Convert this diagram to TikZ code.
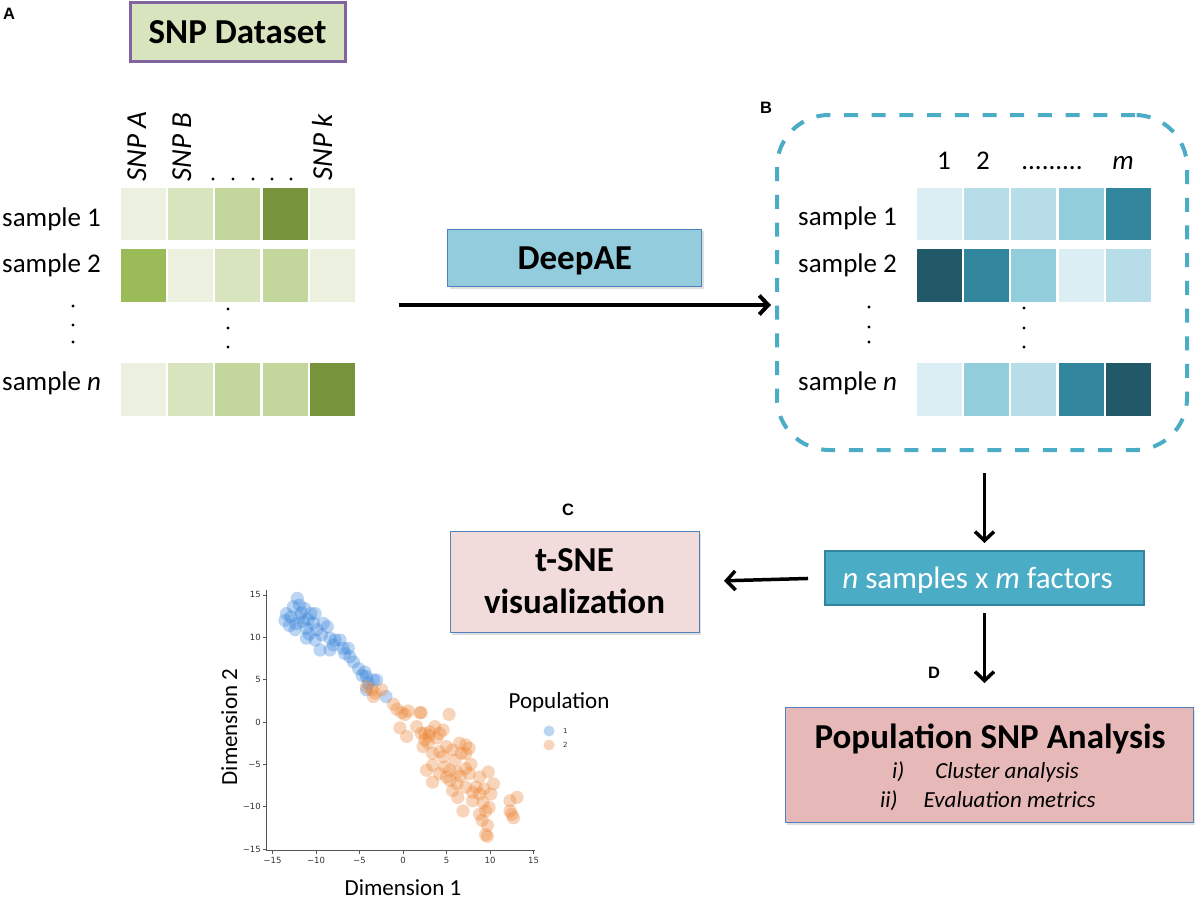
\documentclass[tikz,border=0pt]{standalone}
\usepackage{fontspec}
\setmainfont{Carlito}
\newfontfamily\arialfont{Liberation Sans}
\newfontfamily\dejafont{DejaVu Sans}
\usetikzlibrary{arrows.meta,shadows}
\definecolor{gvl}{HTML}{EBF1DE}
\definecolor{gl}{HTML}{D7E4BD}
\definecolor{gm}{HTML}{C3D69B}
\definecolor{gd}{HTML}{77933C}
\definecolor{gs}{HTML}{9BBB59}
\definecolor{bvl}{HTML}{DAEEF3}
\definecolor{bl}{HTML}{B7DEE8}
\definecolor{bm}{HTML}{92CDDC}
\definecolor{bd}{HTML}{31859C}
\definecolor{bdd}{HTML}{215968}
\definecolor{purp}{HTML}{8064A2}
\definecolor{snpfill}{HTML}{D7E4BD}
\definecolor{aqua}{HTML}{4BACC6}
\definecolor{aquaborder}{HTML}{31859C}
\definecolor{boxblue}{HTML}{4F81BD}
\definecolor{pinklight}{HTML}{F2DCDB}
\definecolor{pinkmid}{HTML}{E6B9B8}
\definecolor{deepfill}{HTML}{93CDDD}
\definecolor{popblue}{HTML}{2F7FDA}
\definecolor{poporange}{HTML}{EC7F2A}
\definecolor{axisgray}{HTML}{555555}
\definecolor{ticktext}{HTML}{333333}
\newcommand\fs[2]{\fontsize{#1}{#2}\selectfont}
\newcommand\cellrow[3]{%
  \foreach \cc [count=\ii from 0] in {#3} {\fill[\cc] ({#1+\ii*47.3},#2) rectangle ++(45,52.3);}}
\tikzset{
  lab/.style={font=\arialfont\bfseries\fs{16.5}{20}, inner sep=0pt},
  rowlab/.style={font=\fs{27}{32}, anchor=base west, inner sep=0pt},
  collab/.style={font=\itshape\fs{29}{34}, rotate=90, anchor=base west, inner sep=0pt},
  numlab/.style={font=\fs{27}{32}, anchor=base, inner sep=0pt},
  dotmark/.style={fill=black},
  shadowed/.style={drop shadow={opacity=0.25, shadow xshift=2pt, shadow yshift=-2.5pt}},
  boxbase/.style={draw, outer sep=0pt, inner sep=0pt, text depth=0pt, font=\bfseries\fs{35}{42}, align=center},
  arr/.style={line width=3.5pt, -{Straight Barb[length=9pt,width=19pt]}},
  ticklab/.style={font=\dejafont\fs{8.5}{10}, text=ticktext, inner sep=0pt},
  plotlab/.style={font=\fs{23}{28}, inner sep=0pt},
  bluept/.style={fill=popblue, fill opacity=0.32},
  orangept/.style={fill=poporange, fill opacity=0.32},
}
\begin{document}
\begin{tikzpicture}[x=1pt,y=-1pt]
\useasboundingbox (0,0) rectangle (1200,899);
\fill[white] (0,0) rectangle (1200,899);

% panel labels
\node[lab, anchor=north west] (labA) at (3,7.5) {A};
\node[lab, anchor=north west] (labB) at (760,102) {B};
\node[lab, anchor=north west] (labC) at (562,504) {C};
\node[lab, anchor=north west] (labD) at (928,667) {D};

% SNP dataset box
\node[boxbase, draw=purp, line width=3pt, fill=snpfill, minimum width=215, minimum height=59] (snp) at (237.5,32.5) {SNP Dataset};

% matrix A
\cellrow{120.7}{187.7}{gvl,gl,gm,gd,gvl}
\cellrow{120.7}{249.3}{gs,gvl,gl,gm,gvl}
\cellrow{120.7}{363.3}{gvl,gl,gm,gm,gd}
\node[collab] (snpa) at (146,182) {SNP A};
\node[collab] (snpb) at (191,182) {SNP B};
\node[collab] (snpk) at (332,181) {SNP k};
\foreach \xx in {213,233,253,272,291} \fill[dotmark] (\xx,179) circle[radius=1.6pt];
\node[rowlab] (a1) at (2,226.5) {sample 1};
\node[rowlab] (a2) at (2,272.7) {sample 2};
\node[rowlab] (an) at (2,390.7) {sample \textit{n}};
\foreach \yy in {306,325,342} \fill[dotmark] (73,\yy) circle[radius=1.6pt];
\foreach \yy in {309,328,347} \fill[dotmark] (228,\yy) circle[radius=1.6pt];

% DeepAE
\node[boxbase, draw=boxblue, line width=0.8pt, fill=deepfill, minimum width=254, minimum height=57.7, shadowed] (deep) at (574.7,257.8) {DeepAE};

% dashed box B
\node[draw=aqua, line width=4pt, dash pattern=on 14pt off 13.7pt, rounded corners=52pt, minimum width=410, minimum height=335, outer sep=0pt] (B) at (982,282.5) {};
\coordinate (astart) at (399,305);
\draw[arr, line width=4pt] (astart) -- (astart -| B.west) [shorten >=6pt];

% matrix B
\cellrow{916.7}{187.7}{bvl,bl,bl,bm,bd}
\cellrow{916.7}{249.3}{bdd,bd,bm,bvl,bl}
\cellrow{916.7}{363.3}{bvl,bm,bl,bd,bdd}
\node[numlab] (c1) at (944,169) {1};
\node[numlab] (c2) at (983,169) {2};
\node[numlab] (cdots) at (1052,169) {.........};
\node[numlab, font=\itshape\fs{27}{32}] (cm) at (1123,169) {m};
\node[rowlab] (b1) at (798,225.5) {sample 1};
\node[rowlab] (b2) at (798,272) {sample 2};
\node[rowlab] (bn) at (798,390) {sample \textit{n}};
\foreach \yy in {307,327,342} \fill[dotmark] (869,\yy) circle[radius=1.6pt];
\foreach \yy in {308,328,347} \fill[dotmark] (1024,\yy) circle[radius=1.6pt];

% n samples x m factors
\node[boxbase, draw=aquaborder, line width=2.5pt, fill=aqua, minimum width=319, minimum height=54, font=\fs{31}{36}, text=white] (nsamp) at (984.5,578) {\textit{n} samples x \textit{m} factors\hspace*{14pt}};

% t-SNE box
\node[boxbase, draw=boxblue, line width=0.8pt, fill=pinklight, minimum width=249, minimum height=101, text depth=, shadowed] (tsne) at (574.5,581.5) {t-SNE\\visualization};

% Population SNP analysis box
\node[boxbase, draw=boxblue, line width=0.8pt, fill=pinkmid, minimum width=408, minimum height=115, shadowed] (pop) at (989,764.5) {};
\node[font=\bfseries\fs{35}{42}, anchor=base, inner sep=0pt] (poptitle) at (990,748) {Population SNP Analysis};
\node[font=\itshape\fs{23}{28}, anchor=base west, inner sep=0pt] (pop1) at (892,778) {i)\hspace{31pt}Cluster analysis};
\node[font=\itshape\fs{23}{28}, anchor=base west, inner sep=0pt] (pop2) at (880,807) {ii)\hspace{26pt}Evaluation metrics};

% arrows
\draw[arr] (nsamp.north |- B.south) -- (nsamp.north) [shorten <=23pt, shorten >=8pt];
\draw[arr] (nsamp.west) -- (tsne.east) [shorten <=17pt, shorten >=25pt];
\draw[arr] (nsamp.south) -- (nsamp.south |- pop.north) [shorten <=8pt, shorten >=24pt];

% scatter plot
\begin{scope}[shift={(403,722)}, x=8.7pt, y=8.47pt]
  \foreach \px/\py in {-12.15/14.6,-13.56/12.0,-13.4/12.8,-12.6/13.6,-11.3/13.4,-10.6/12.8,-10.1/12.8,-13.07/11.4,-12.4/10.9,-11.1/11.05,-11.45/11.85,-10.3/11.65,-9.16/11.65,-8.7/11.25,-9.35/10.3,-11.1/9.9,-10.1/9.68,-8.4/9.9,-7.8/9.68,-7.24/9.68,-9.54/8.5,-8.4/8.5,-8.0/9.1,-6.88/8.7,-6.3/8.7,-6.1/7.7,-6.7/8.1,-5.7/7.1,-5.1/6.3,-4.4/5.9,-4.7/5.5,-4.2/5.35,-3.4/4.96,-3.03/4.96,-3.98/4.56,-4.2/3.8,-1.96/3.0,-12.0/12.3,-11.7/12.9,-12.9/12.4,-9.9/10.9,-10.8/10.4,-12.3/11.6,-11.9/13.8,-10.9/12.1}
    \fill[bluept] (\px,\py) circle[radius=6.6pt];
  \foreach \px/\py in {-4.2/4.17,-3.6/3.8,-3.2/3.4,-3.4/3.0,-2.46/3.8,-1.1/2.1,-0.7/1.5,-0.15/1.1,0.23/0.9,0.6/1.3,-0.35/-0.7,0.42/-1.7,2.1/1.1,5.3/0.9,2.1/-1.35,2.5/-1.35,3.1/-1.15,3.66/-0.55,4.2/-1.35,4.6/-0.95,2.3/-2.9,2.9/-2.5,3.4/-3.7,4.2/-3.5,5.0/-2.9,5.7/-3.3,6.5/-2.5,7.2/-2.7,6.7/-3.7,7.2/-3.7,7.6/-3.1,2.7/-5.7,3.4/-5.1,4.2/-6.1,4.8/-5.3,5.4/-5.7,6.2/-5.9,7.2/-5.5,7.6/-6.1,9.8/-5.9,3.4/-7.1,5.4/-6.9,6.2/-7.3,5.7/-8.1,6.3/-8.9,7.2/-7.7,8.0/-8.3,8.4/-7.7,8.8/-8.5,9.3/-7.9,10.1/-8.5,8.0/-9.3,6.9/-10.5,8.8/-10.9,9.5/-10.5,9.9/-10.1,9.7/-12.2,9.5/-13.3,9.7/-13.5,9.1/-11.6,12.3/-9.3,13.1/-8.9,12.3/-10.5,12.7/-11.3,12.5/-10.9,1.57/-0.55,1.95/1.1,2.5/-2.1,3.85/-1.9,4.6/-4.1,8.8/-6.5,10.4/-7.3,3.0/-1.6,6.0/-4.5,7.8/-5.0,5.0/-6.5,9.2/-9.5,6.6/-6.4}
    \fill[orangept] (\px,\py) circle[radius=6.6pt];
\end{scope}
% axes
\coordinate (yaxtop) at (266.7,590);
\coordinate (origin) at (266.7,850);
\coordinate (xaxend) at (535,850);
\draw[axisgray, line width=0.8pt] (yaxtop) -- (origin) -- (xaxend);
\foreach \v in {-15,-10,-5,0,5,10,15} {
  \pgfmathsetmacro\yp{722-8.47*\v}
  \pgfmathsetmacro\xp{403+8.7*\v}
  \draw[axisgray, line width=0.6pt] (263,\yp) -- (266.7,\yp);
  \draw[axisgray, line width=0.6pt] (\xp,850) -- (\xp,853.7);
}
\foreach \v/\t in {-15/−15,-10/−10,-5/−5,0/0,5/5,10/10,15/15} {
  \pgfmathsetmacro\yp{722-8.47*\v}
  \pgfmathsetmacro\xp{403+8.7*\v}
  \node[ticklab, anchor=east] at (261,\yp) {\t};
  \node[ticklab, anchor=north] at (\xp,857) {\t};
}
\node[plotlab, anchor=base] (dim1) at (403,895) {Dimension 1};
\node[plotlab, anchor=base, rotate=90] (dim2) at (237,727) {Dimension 2};
\node[plotlab, anchor=base] (poplab) at (559,708) {Population};
\fill[bluept] (549,731) circle[radius=5.5pt];
\fill[orangept] (549,745) circle[radius=5.5pt];
\node[ticklab, anchor=west, font=\dejafont\fs{7}{8}] (leg1) at (563,731) {1};
\node[ticklab, anchor=west, font=\dejafont\fs{7}{8}] (leg2) at (563,745) {2};
\end{tikzpicture}
\end{document}
